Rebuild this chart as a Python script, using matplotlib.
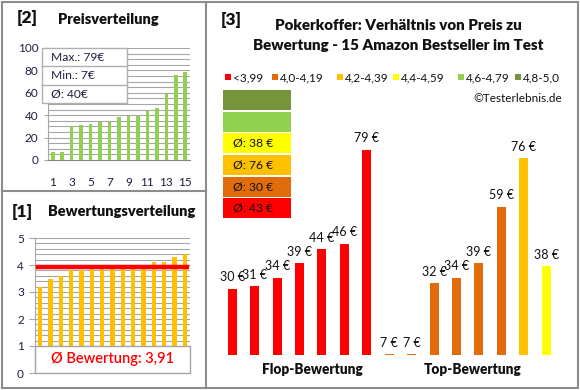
import matplotlib
matplotlib.use("Agg")
import matplotlib.pyplot as plt
from matplotlib.patches import Rectangle
import numpy as np

plt.rcParams['font.family'] = ['Lato', 'DejaVu Sans']

# ---------------- data ----------------
prices_sorted = [7, 7, 30, 31, 32, 34, 34, 38, 39, 39, 44, 46, 59, 76, 79]
ratings_sorted = [3.2, 3.5, 3.6, 3.8, 3.8, 3.9, 3.9, 4.0, 4.0, 4.0, 4.0, 4.1, 4.1, 4.3, 4.4]
rating_avg = 3.91

right_prices = [30, 31, 34, 39, 44, 46, 79, 7, 7, 32, 34, 39, 59, 76, 38]
right_cats = [0, 0, 0, 0, 0, 0, 0, 1, 1, 1, 1, 1, 1, 2, 3]
cat_labels = ["<3,99", "4,0-4,19", "4,2-4,39", "4,4-4,59", "4,6-4,79", "4,8-5,0"]
cat_colors = ["#FF0000", "#E36C0A", "#FFC000", "#FFFF00", "#92D050", "#77933C"]
group_labels = ["Flop-Bewertung", "Top-Bewertung"]

W, H = 580, 390
fig = plt.figure(figsize=(W / 100, H / 100), dpi=100)
fig.patch.set_facecolor("white")

def fx(x):
    return x / W

def fy(y):
    return 1 - y / H

def axes_px(x0, y0, x1, y1):
    return fig.add_axes([fx(x0), fy(y1), (x1 - x0) / W, (y1 - y0) / H])

TXT = "#1F1F3F"
GRID = "#A6A6A6"
BORDER = "#8C8C8C"
TITLE_W = "heavy"

# ---------------- panel borders ----------------
bax = fig.add_axes([0, 0, 1, 1])
bax.set_xlim(0, W)
bax.set_ylim(H, 0)
bax.axis("off")
bax.add_patch(Rectangle((1.5, 1.5), 576, 386, fill=False, ec=BORDER, lw=1.5))
bax.plot([206, 206], [1.5, 387.5], color=BORDER, lw=1.5)
bax.plot([1.5, 206], [191, 191], color=BORDER, lw=1.5)

# ---------------- [2] Preisverteilung ----------------
ax1 = axes_px(48, 48, 190, 160)
x = np.arange(1, len(prices_sorted) + 1)
ax1.bar(x, prices_sorted, width=0.38, color="#92D050", zorder=3)
ax1.set_xlim(0.5, 15.5)
ax1.set_ylim(0, 100)
for v in np.arange(5, 100.1, 5):
    ax1.axhline(v, color=GRID, lw=0.8, zorder=1)
ax1.set_yticks(np.arange(0, 101, 20))
ax1.set_xticks(np.arange(1, 16, 2))
ax1.tick_params(axis="y", length=3, color=GRID, labelsize=8.5, labelcolor=TXT, pad=4)
ax1.tick_params(axis="x", length=0, labelsize=8.5, labelcolor=TXT, pad=12)
for s in ["top", "right"]:
    ax1.spines[s].set_visible(False)
ax1.spines["left"].set_color(GRID)
ax1.spines["bottom"].set_color("#868686")
ax1.set_facecolor("white")

fig.text(fx(17), fy(18), "[2]", fontsize=12.5, fontweight=TITLE_W, color="#111111", va="center")
fig.text(fx(58), fy(19), "Preisverteilung", fontsize=10.5, fontweight=TITLE_W, color="#111111", va="center")

# ---------------- [1] Bewertungsverteilung ----------------
ax2 = axes_px(35, 238, 190, 373)
x = np.arange(1, len(ratings_sorted) + 1)
ax2.bar(x, ratings_sorted, width=0.42, color="#FFC000", zorder=3)
ax2.set_xlim(0.5, 15.5)
ax2.set_ylim(0, 5)
for v in np.arange(1.2, 5.01, 0.2):
    ax2.axhline(v, color=GRID, lw=0.8, zorder=1)
ax2.plot([0.8, 15.2], [rating_avg, rating_avg], color="#FF0000", lw=3.2, zorder=4)
ax2.set_yticks(np.arange(0, 6, 1))
ax2.set_xticks([])
ax2.tick_params(axis="y", length=4, color=GRID, labelsize=8.5, labelcolor=TXT, pad=4)
for s in ["top", "right", "bottom"]:
    ax2.spines[s].set_visible(False)
ax2.spines["left"].set_color(GRID)
ax2.add_patch(Rectangle((0.5, 0), 15, 1, fc="white", ec="#A6A6A6", lw=1, zorder=5, clip_on=False))
ax2.text(8, 0.5, "Ø Bewertung: " + f"{rating_avg:.2f}".replace(".", ","), fontsize=10.5,
         fontweight="semibold", color="#FF0000", ha="center", va="center", zorder=6)

fig.text(fx(12), fy(212), "[1]", fontsize=12.5, fontweight=TITLE_W, color="#111111", va="center")
fig.text(fx(48), fy(212), "Bewertungsverteilung", fontsize=10.5, fontweight=TITLE_W, color="#111111", va="center")

# ---------------- [3] Preis zu Bewertung ----------------
fig.text(fx(221), fy(20), "[3]", fontsize=12.5, fontweight=TITLE_W, color="#111111", va="center")
fig.text(fx(398), fy(25), "Pokerkoffer: Verhältnis von Preis zu", fontsize=10.9,
         fontweight=TITLE_W, color="#111111", ha="center", va="center")
fig.text(fx(398), fy(45), "Bewertung - 15 Amazon Bestseller im Test", fontsize=10.9,
         fontweight=TITLE_W, color="#111111", ha="center", va="center")

leg_x = [225, 272, 337, 393, 458, 515]
for lx, lab, col in zip(leg_x, cat_labels, cat_colors):
    bax.add_patch(Rectangle((lx, 74), 6, 6, fc=col, ec="none"))
    bax.text(lx + 8, 77.5, lab, fontsize=8.5, color="#111111", va="center")
bax.text(562, 98, "©Testerlebnis.de", fontsize=8.5, color="#111111", ha="right", va="center")

ax3 = axes_px(221, 140, 557.5, 355)
x = np.arange(1, len(right_prices) + 1)
cols = [cat_colors[c] for c in right_cats]
ax3.bar(x, right_prices, width=0.4, color=cols, zorder=3)
ax3.set_xlim(0.5, 15.5)
ax3.set_ylim(6.7, 82.5)
ax3.axis("off")
for xi, v in zip(x, right_prices):
    ax3.annotate(f"{v} €", (xi, v), xytext=(0, 4), textcoords="offset points",
                 ha="center", va="bottom", fontsize=9, color="#111111")

fig.text(fx(312), fy(369), group_labels[0], fontsize=9.8, fontweight=TITLE_W, color="#111111",
         ha="center", va="center")
fig.text(fx(473), fy(369), group_labels[1], fontsize=9.8, fontweight=TITLE_W, color="#111111",
         ha="center", va="center")

# ---------------- overlays (on top of all axes) ----------------
oax = fig.add_axes([0, 0, 1, 1])
oax.set_xlim(0, W)
oax.set_ylim(H, 0)
oax.axis("off")
oax.patch.set_alpha(0)

# stats box in price panel
bx0, by0, bx1, by1 = 42, 48, 127, 103
oax.add_patch(Rectangle((bx0, by0), bx1 - bx0, by1 - by0, fc="white", ec="#B0B0B0", lw=1, zorder=5))
rows = [f"Max.: {max(prices_sorted)}€", f"Min.: {min(prices_sorted)}€",
        f"Ø: {round(sum(prices_sorted) / len(prices_sorted))}€"]
rh = (by1 - by0) / 3
for i, t in enumerate(rows):
    if i > 0:
        oax.plot([bx0, bx1], [by0 + i * rh, by0 + i * rh], color="#B0B0B0", lw=1, zorder=6)
    oax.text(bx0 + 9, by0 + (i + 0.5) * rh, t, fontsize=8.7, color=TXT, va="center", zorder=7)

# category average boxes
row_tops = [90, 111.5, 133, 155, 177, 198]
order = [5, 4, 3, 2, 1, 0]
for top, ci in zip(row_tops, order):
    oax.add_patch(Rectangle((223, top), 68, 20, fc=cat_colors[ci], ec="none"))
    vals = [p for p, c in zip(right_prices, right_cats) if c == ci]
    if vals:
        oax.text(233, top + 10, f"Ø: {round(sum(vals) / len(vals))} €", fontsize=8.7,
                 color="#111111", va="center")

fig.savefig("out.png", dpi=100, facecolor="white")
